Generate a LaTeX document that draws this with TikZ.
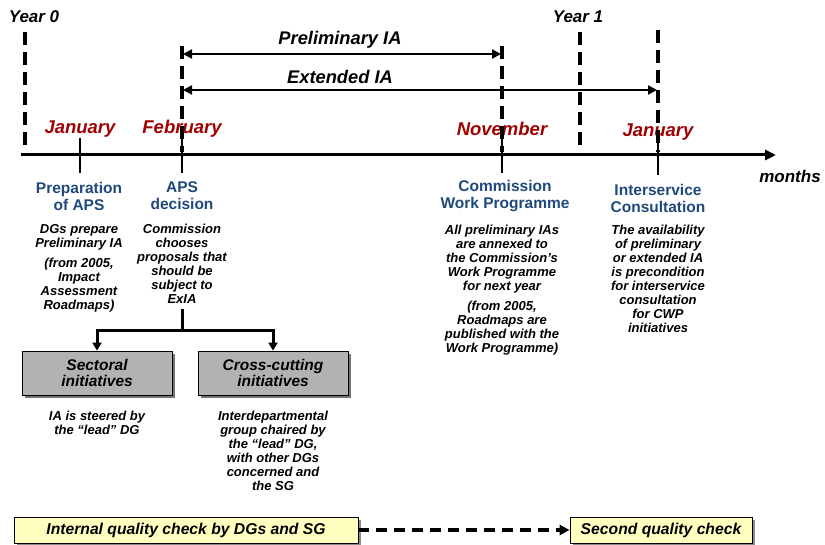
\documentclass[tikz,border=0pt]{standalone}
\usepackage{fontspec}
\setmainfont{Liberation Sans}
\usetikzlibrary{arrows.meta,positioning,shadows}

\definecolor{monthred}{RGB}{160,0,0}
\definecolor{headblue}{RGB}{31,73,125}
\definecolor{boxgray}{RGB}{178,178,178}
\definecolor{checkyellow}{RGB}{255,255,192}

\tikzset{
  yearlabel/.style={font=\fontsize{17}{17}\selectfont\bfseries\itshape},
  spanlabel/.style={font=\fontsize{18.3}{18}\selectfont\bfseries\itshape},
  monthlabel/.style={text=monthred, font=\fontsize{18.5}{18}\selectfont\bfseries\itshape},
  yearline/.style={line width=3.5pt, dash pattern=on 13pt off 7pt},
  tickline/.style={line width=2.5pt},
  spanarrow/.style={line width=2.5pt, {Triangle[length=9pt,width=9pt]}-{Triangle[length=9pt,width=9pt]}},
  heading/.style={text=headblue, align=center, inner sep=0pt, font=\fontsize{15.5}{17}\selectfont\bfseries},
  desc/.style={align=center, inner sep=0pt, font=\fontsize{13}{14}\selectfont\bfseries\itshape},
  initbox/.style={draw, thick, fill=boxgray, minimum width=150pt, minimum height=44pt, align=center,
    font=\fontsize{15.5}{16}\selectfont\bfseries\itshape,
    drop shadow={shadow xshift=3pt, shadow yshift=-3pt, fill=black!55, opacity=1}},
  checkbox/.style={draw, thick, fill=checkyellow, minimum height=26pt,
    font=\fontsize{15.7}{16}\selectfont\bfseries\itshape,
    drop shadow={shadow xshift=3pt, shadow yshift=-3pt, fill=black!45, opacity=1}},
}

\begin{document}
\begin{tikzpicture}[x=1pt, y=-1pt]
    \useasboundingbox (0,0) rectangle (825,545);

    % Asse dei mesi
    \coordinate (axis_start) at (21,155);
    \coordinate (axis_end) at (776,155);
    \draw[line width=3pt, -{Triangle[length=11pt,width=10pt]}] (axis_start) -- (axis_end);
    \node[yearlabel] (months) at (790,176) {months};

    % Anni
    \node[yearlabel] (year0) at (34,17) {Year 0};
    \node[yearlabel] (year1) at (578,17) {Year 1};
    \draw[yearline] (25,32) -- (25,150);
    \draw[yearline] (580,32) -- (580,148);

    % Mesi
    \node[monthlabel] (jan0) at (80,129) {January};
    \node[monthlabel] (feb) at (182,129) {February};
    \node[monthlabel] (nov) at (502,129) {November};
    \node[monthlabel] (jan1) at (658,132) {January};

    \coordinate (feb_top) at (182,46);
    \coordinate (nov_top) at (502,46);
    \coordinate (jan1_top) at (658,30);
    \draw[yearline] (feb_top) -- (182,152);
    \draw[yearline] (nov_top) -- (502,152);
    \draw[yearline] (jan1_top) -- (658,152);
    \draw[tickline] (80,138) -- (80,173);
    \draw[tickline] (182,138) -- (182,173);
    \draw[tickline] (502,138) -- (502,173);
    \draw[tickline] (658,138) -- (658,175);

    % Durata delle IA
    \coordinate (prel_a) at (183,54);
    \coordinate (prel_b) at (501,54);
    \coordinate (ext_a) at (183,90);
    \coordinate (ext_b) at (657,90);
    \draw[spanarrow] (prel_a) -- (prel_b);
    \draw[spanarrow] (ext_a) -- (ext_b);
    \node[spanlabel] (prel_lbl) at (340,40) {Preliminary IA};
    \node[spanlabel] (ext_lbl) at (340,77) {Extended IA};

    % Fasi
    \node[heading] (prep) at (79,196) {Preparation\\of APS};
    \node[heading] (aps) at (182,196) {APS\\decision};
    \node[heading] (cwp) at (505,196) {Commission\\Work Programme};
    \node[heading] (isc) at (658,198) {Interservice\\Consultation};

    \node[desc, below=14pt of prep] (prep_desc) {DGs prepare\\Preliminary IA\\[6pt](from 2005,\\Impact\\Assessment\\Roadmaps)};
    \node[desc, below=14pt of aps] (aps_desc) {Commission\\chooses\\proposals that\\should be\\subject to\\ExIA};
    \node[desc, below=13pt of cwp, xshift=-3pt] (cwp_desc) {All preliminary IAs\\are annexed to\\the Commission's\\Work Programme\\for next year\\[6pt](from 2005,\\Roadmaps are\\published with the\\Work Programme)};
    \node[desc, below=12pt of isc] (isc_desc) {The availability\\of preliminary\\or extended IA\\is precondition\\for interservice\\consultation\\for CWP\\initiatives};

    % Tipi di iniziative
    \node[initbox] (sectoral) at (97,373) {Sectoral\\initiatives};
    \node[initbox] (crosscut) at (273,373) {Cross-cutting\\initiatives};
    \coordinate (split) at (182,331);
    \draw[line width=3pt, shorten <=5pt] (aps_desc.south) -- (split);
    \draw[line width=3pt, -{Triangle[length=8pt,width=9pt]}] (split) -| (sectoral);
    \draw[line width=3pt, -{Triangle[length=8pt,width=9pt]}] (split) -| (crosscut);

    \node[desc, below=15pt of sectoral] (sectoral_desc) {IA is steered by\\the ``lead'' DG};
    \node[desc, below=15pt of crosscut] (crosscut_desc) {Interdepartmental\\group chaired by\\the ``lead'' DG,\\with other DGs\\concerned and\\the SG};

    % Controlli di qualita
    \node[checkbox, minimum width=344pt] (check1) at (186,530) {Internal quality check by DGs and SG};
    \node[checkbox, minimum width=182pt] (check2) at (661,530) {Second quality check};
    \draw[line width=3.5pt, dash pattern=on 11pt off 7pt, -{Triangle[length=10pt,width=10pt]}] (check1) -- (check2);
\end{tikzpicture}
\end{document}
